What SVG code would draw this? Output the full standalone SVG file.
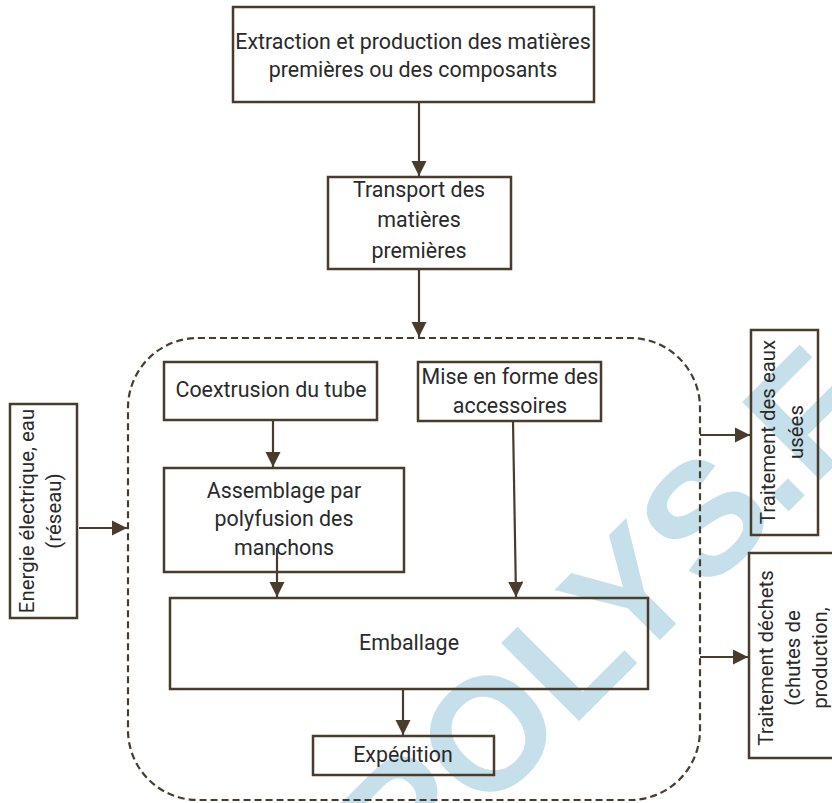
<svg xmlns="http://www.w3.org/2000/svg" width="832" height="803" viewBox="0 0 832 803">
<style>
.bx{fill:none;stroke:#4a3c2c;stroke-width:2.5}
.t{font-family:Roboto,"Liberation Sans",sans-serif;font-size:21.4px;fill:#2a2a2a;text-anchor:middle}
.r{font-size:20.4px}
.c{stroke:#4a3c2c;stroke-width:2.2;fill:none;marker-end:url(#ah)}
.wm{font-family:"Liberation Sans",Arial,sans-serif;font-weight:bold;font-size:160px;fill:#c5e0eb}
</style>
<defs>
<marker id="ah" viewBox="0 0 10 10" refX="10" refY="5" markerWidth="7" markerHeight="7" markerUnits="strokeWidth" orient="auto">
<path d="M0,0 L10,5 L0,10 z" fill="#4a3c2c"/>
</marker>
</defs>
<rect width="832" height="803" fill="#ffffff"/>
<text class="wm" transform="translate(408,892) rotate(-45)">POLYS.F</text>
<g id="boundary">
<rect x="128" y="338" width="572" height="462" rx="70" ry="70" fill="none" stroke="#4a3c2c" stroke-width="2.2" stroke-dasharray="7,4"/>
</g>
<g id="n-extraction">
<rect class="bx" x="233" y="7" width="361" height="95"/>
<text class="t" x="413" y="49">Extraction et production des matières</text>
<text class="t" x="413" y="77">premières ou des composants</text>
</g>
<g id="n-transport">
<rect class="bx" x="328" y="177" width="183" height="92"/>
<text class="t" x="419" y="197">Transport des</text>
<text class="t" x="419" y="227">matières</text>
<text class="t" x="419" y="258">premières</text>
</g>
<g id="n-coextrusion">
<rect class="bx" x="164" y="362" width="213" height="58"/>
<text class="t" x="271" y="397">Coextrusion du tube</text>
</g>
<g id="n-mise">
<rect class="bx" x="418" y="362" width="183" height="59"/>
<text class="t" x="510" y="384">Mise en forme des</text>
<text class="t" x="510" y="413">accessoires</text>
</g>
<g id="n-assemblage">
<rect class="bx" x="164" y="468" width="240" height="104"/>
<text class="t" x="284" y="498">Assemblage par</text>
<text class="t" x="284" y="526">polyfusion des</text>
<text class="t" x="284" y="555">manchons</text>
</g>
<g id="n-emballage">
<rect class="bx" x="170" y="598" width="478" height="91"/>
<text class="t" x="409" y="650">Emballage</text>
</g>
<g id="n-expedition">
<rect class="bx" x="313" y="736" width="181" height="39"/>
<text class="t" x="403" y="762">Expédition</text>
</g>
<g id="n-energie">
<rect class="bx" x="10" y="404" width="67" height="214"/>
<text class="t r" transform="translate(34,511) rotate(-90)">Energie électrique, eau</text>
<text class="t r" transform="translate(61,511) rotate(-90)">(réseau)</text>
</g>
<g id="n-eaux">
<rect class="bx" x="751" y="330" width="67" height="205"/>
<text class="t r" transform="translate(775,432) rotate(-90)">Traitement des eaux</text>
<text class="t r" transform="translate(803,432) rotate(-90)">usées</text>
</g>
<g id="n-dechets">
<rect class="bx" x="749" y="553" width="100" height="205"/>
<text class="t r" transform="translate(773,658) rotate(-90)">Traitement déchets</text>
<text class="t r" transform="translate(800,658) rotate(-90)">(chutes de</text>
<text class="t r" transform="translate(827,658) rotate(-90)">production,</text>
</g>
<g id="connectors">
<path class="c" d="M419,102 V176"/>
<path class="c" d="M419,269 V337"/>
<path class="c" d="M273,421 V467"/>
<path class="c" d="M277,548 V597"/>
<path class="c" d="M513,421 L516,597"/>
<path class="c" d="M403,689 V735"/>
<path class="c" d="M79,528 H127"/>
<path class="c" d="M700,435 H750"/>
<path class="c" d="M700,657 H748"/>
</g>
</svg>
